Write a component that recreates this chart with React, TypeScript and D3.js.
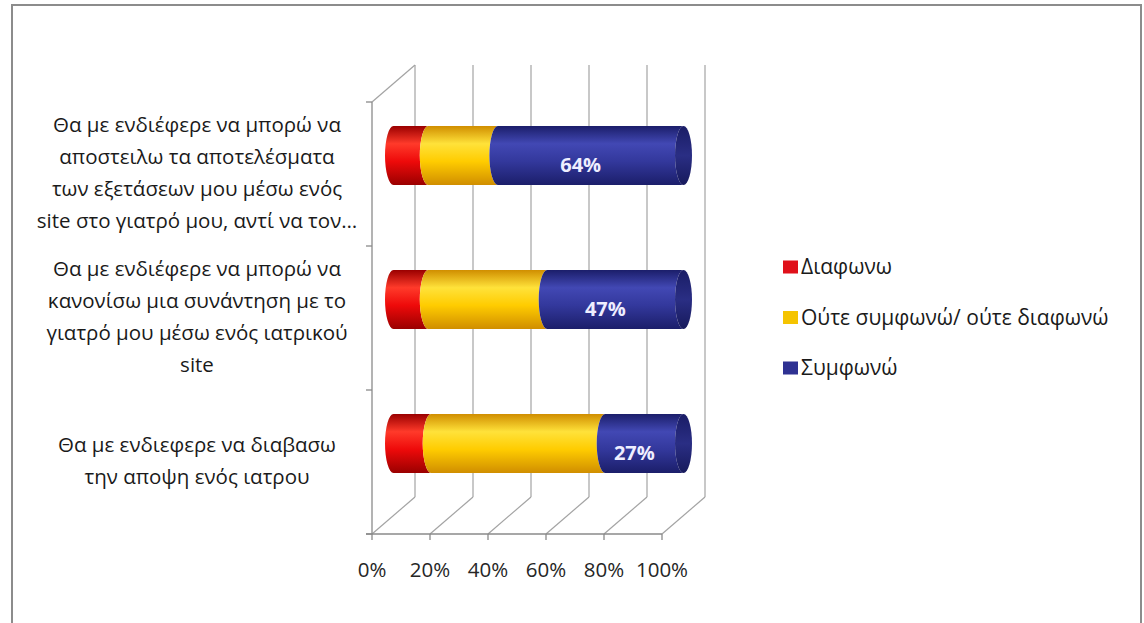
import React from 'react';
import * as d3 from 'd3';

const categories = ['q1', 'q2', 'q3'];
const categoryLines: string[][] = [
  ['Θα με ενδιέφερε να μπορώ να', 'αποστειλω τα αποτελέσματα', 'των εξετάσεων μου μέσω ενός', 'site στο γιατρό μου, αντί να τον…'],
  ['Θα με ενδιέφερε να μπορώ να', 'κανονίσω μια συνάντηση με το', 'γιατρό μου μέσω ενός ιατρικού', 'site'],
  ['Θα με ενδιεφερε να διαβασω', 'την αποψη ενός ιατρου'],
];
const seriesNames = ['Διαφωνω', 'Ούτε συμφωνώ/ ούτε διαφωνώ', 'Συμφωνώ'];
const disagreeValues = [12, 12, 13];
const neutralValues = [24, 41, 60];
const agreeValues = [64, 47, 27];
const tickValues = [0, 20, 40, 60, 80, 100];
const tickLabels = ['0%', '20%', '40%', '60%', '80%', '100%'];

const colors = [
  { dark: '#9a0000', light: '#ff3a2a', base: '#ee0a0a' },
  { dark: '#d08e00', light: '#ffe23a', base: '#ffcc00' },
  { dark: '#1b1e6a', light: '#4248b4', base: '#33389c' },
];
const legendColors = ['#e0101a', '#f5c400', '#2e3192'];

const FONT = '"Open Sans", "DejaVu Sans", sans-serif';

export default function App() {
  const W = 1144;
  const H = 623;
  const x = d3.scaleLinear().domain([0, 100]).range([372, 662]);
  const y = d3.scaleBand<string>().domain(categories).range([102, 534]);
  const dx = 43;
  const dy = -37;
  const bw = y.bandwidth();
  const barH = 59;
  const ry = barH / 2;
  const rx = 8.5;

  const series = [disagreeValues, neutralValues, agreeValues];
  const data = categories.map((c, i) => {
    const row: any = { cat: c };
    series.forEach((s, j) => (row['s' + j] = s[i]));
    return row;
  });
  const stack = d3.stack<any>().keys(['s0', 's1', 's2'])(data);

  const gridColor = '#a3a3a3';
  const axisColor = '#8a8a8a';

  const segPath = (xa: number, xb: number, cy: number) =>
    `M${xa},${cy - ry} L${xb},${cy - ry} A${rx},${ry} 0 0 0 ${xb},${cy + ry} L${xa},${cy + ry} A${rx},${ry} 0 0 1 ${xa},${cy - ry} Z`;

  return (
    <svg width={W} height={H} style={{ position: 'absolute', left: 0, top: 0, background: '#fff' }}>
      <defs>
        {colors.map((c, i) => (
          <linearGradient key={i} id={'g' + i} x1="0" y1="0" x2="0" y2="1">
            <stop offset="0" stopColor={c.dark} />
            <stop offset="0.3" stopColor={c.light} />
            <stop offset="0.6" stopColor={c.base} />
            <stop offset="1" stopColor={c.dark} />
          </linearGradient>
        ))}
        <linearGradient id="cap" x1="0" y1="0" x2="0" y2="1">
          <stop offset="0" stopColor="#1a1d66" />
          <stop offset="0.5" stopColor="#2a2e84" />
          <stop offset="1" stopColor="#171a5c" />
        </linearGradient>
      </defs>
      <rect x={0} y={0} width={W} height={H} fill="#fff" />
      <rect x={12} y={5} width={1129} height={700} fill="#fff" stroke="#8c8c8c" strokeWidth={2} />

      {/* back wall gridlines */}
      {tickValues.map((t) => (
        <line key={'bg' + t} x1={x(t) + dx} x2={x(t) + dx} y1={102 + dy} y2={534 + dy} stroke={gridColor} strokeWidth={1.2} />
      ))}
      {/* floor diagonals */}
      {tickValues.map((t) => (
        <line key={'fd' + t} x1={x(t)} x2={x(t) + dx} y1={534} y2={534 + dy} stroke={gridColor} strokeWidth={1.2} />
      ))}
      {/* side wall top edge */}
      <line x1={x(0)} y1={102} x2={x(0) + dx} y2={102 + dy} stroke={gridColor} strokeWidth={1.2} />
      {/* left axis */}
      <line x1={x(0)} x2={x(0)} y1={102} y2={534} stroke={axisColor} strokeWidth={1.3} />
      {[...categories.map((c) => y(c)!), 534].map((v, i) => (
        <line key={'lt' + i} x1={x(0) - 6} x2={x(0)} y1={v} y2={v} stroke={axisColor} strokeWidth={1.3} />
      ))}
      {/* bottom axis */}
      <line x1={x(0) - 6} x2={x(100)} y1={534} y2={534} stroke={axisColor} strokeWidth={1.3} />
      {tickValues.map((t) => (
        <line key={'bt' + t} x1={x(t)} x2={x(t)} y1={534} y2={540} stroke={axisColor} strokeWidth={1.3} />
      ))}
      {tickValues.map((t, i) => (
        <text key={'tl' + t} x={x(t)} y={577} textAnchor="middle" fontFamily={FONT} fontSize={20.5} fill="#262626">
          {tickLabels[i]}
        </text>
      ))}

      {/* bars */}
      {categories.map((c, i) => {
        const cy = y(c)! + bw / 2 + dy / 2;
        return (
          <g key={'bar' + c}>
            {stack.map((s, j) => {
              const [v0, v1] = s[i];
              const xa = x(v0) + dx / 2;
              const xb = x(v1) + dx / 2;
              return <path key={j} d={segPath(xa, xb, cy)} fill={`url(#g${j})`} />;
            })}
            <ellipse cx={x(stack[2][i][1]) + dx / 2} cy={cy} rx={rx} ry={ry} fill="url(#cap)" />
          </g>
        );
      })}
      {/* value labels for agree series */}
      {categories.map((c, i) => {
        const cy = y(c)! + bw / 2 + dy / 2;
        const [v0, v1] = stack[2][i];
        const cx = x((v0 + v1) / 2) + dx / 2 - 10;
        return (
          <text key={'vl' + c} x={cx} y={cy + 9 + 7} textAnchor="middle" fontFamily={FONT} fontWeight="bold" fontSize={20} fill="#eeeeff">
            {agreeValues[i]}%
          </text>
        );
      })}

      {/* category labels */}
      {categories.map((c, i) => {
        const center = y(c)! + bw / 2;
        const lines = categoryLines[i];
        const n = lines.length;
        return (
          <text key={'cl' + c} textAnchor="middle" fontFamily={FONT} fontSize={20.5} fill="#1a1a1a">
            {lines.map((l, k) => (
              <tspan key={k} x={197} y={center + (k - (n - 1) / 2) * 32 + 6}>
                {l}
              </tspan>
            ))}
          </text>
        );
      })}

      {/* legend */}
      {seriesNames.map((s, i) => {
        const cy = 267 + i * 50.5;
        return (
          <g key={'lg' + i}>
            <rect x={783} y={cy - 6.5} width={15} height={13} fill={legendColors[i]} />
            <text x={801} y={cy + 7} fontFamily={FONT} fontSize={21} fill="#1a1a1a">
              {s}
            </text>
          </g>
        );
      })}
    </svg>
  );
}
